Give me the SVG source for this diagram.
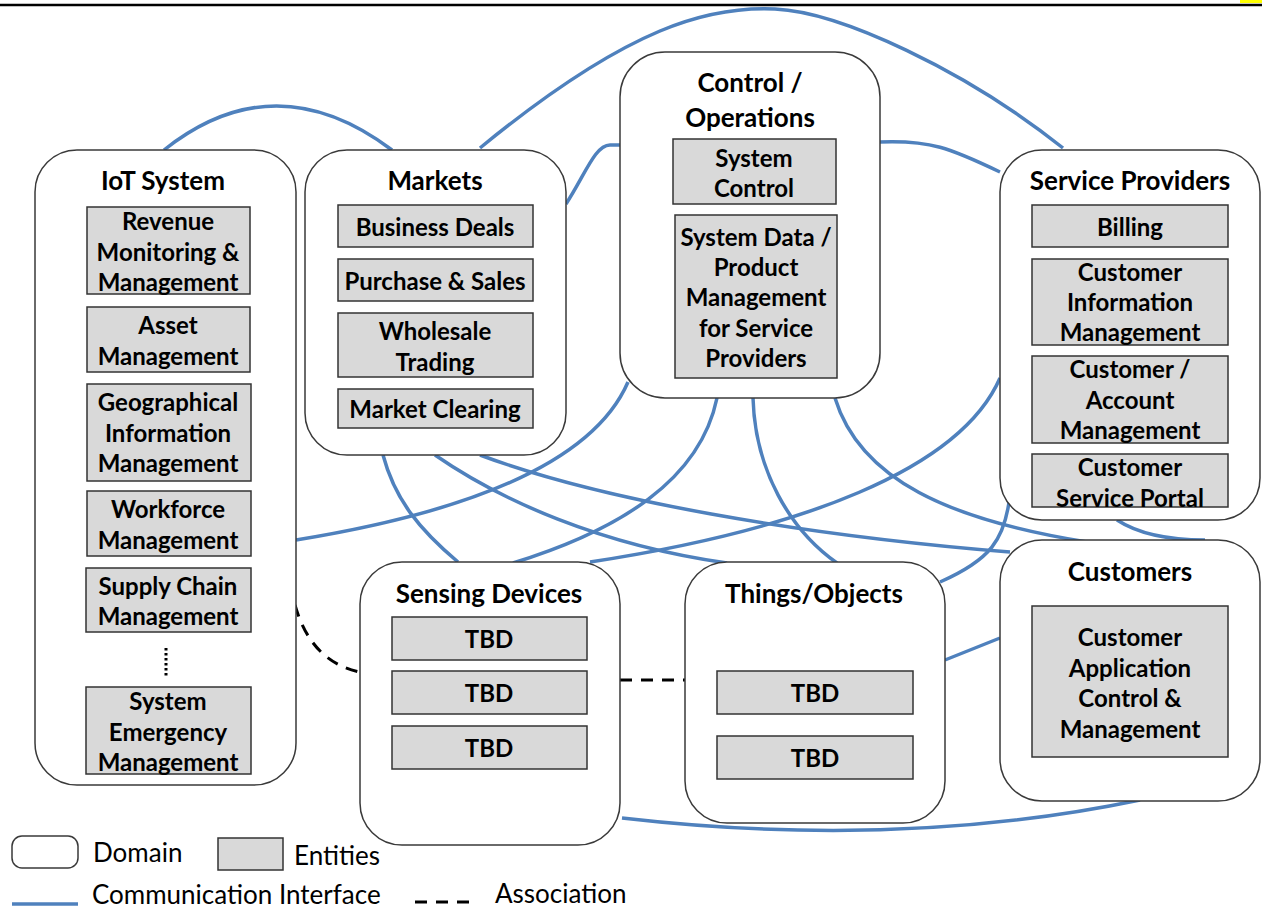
<svg xmlns="http://www.w3.org/2000/svg" width="1262" height="908" viewBox="0 0 1262 908">
<style>
.dom{fill:#fff;stroke:#3a3a3a;stroke-width:1.5}
.ent{fill:#d9d9d9;stroke:#333;stroke-width:1.5}
.t{font-family:Lato,"Liberation Sans",sans-serif;font-weight:bold;font-size:24px;text-anchor:middle;dominant-baseline:central;fill:#000}
.ti{font-size:26px}
.lg{font-family:Lato,"Liberation Sans",sans-serif;font-size:26px;dominant-baseline:central;fill:#000}
.link{fill:none;stroke:#4f81bd;stroke-width:3.5}
.assoc{fill:none;stroke:#000;stroke-width:3;stroke-dasharray:12 9}
</style>
<rect x="0" y="0" width="1262" height="908" fill="#fff"/>
<line x1="0" y1="5" x2="1262" y2="5" stroke="#000" stroke-width="2.5"/>
<rect x="1240" y="0" width="22" height="3" fill="#ffff00"/>
<g id="connectors">
<path class="link" d="M164,150 Q275,62 392,150"/>
<path class="link" d="M480,148 C630,25 710,6 775,9 S965,70 1063,148"/>
<path class="link" d="M566,204 C585,175 595,145 610,145 L620,145"/>
<path class="link" d="M880,142 C930,140 950,148 1000,172"/>
<path class="link" d="M296,540 C450,515 590,470 628,382"/>
<path class="link" d="M383,455 C395,500 420,530 458,562"/>
<path class="link" d="M435,455 C500,500 600,545 727,563"/>
<path class="link" d="M480,455 C600,500 800,535 1010,552"/>
<path class="link" d="M717,398 C700,480 620,530 513,563"/>
<path class="link" d="M753,398 C755,470 790,530 837,563"/>
<path class="link" d="M835,398 C860,480 950,520 1087,542"/>
<path class="link" d="M1000,378 C960,470 800,530 590,562"/>
<path class="link" d="M1010,495 C1005,540 990,560 940,582"/>
<path class="link" d="M1117,520 C1140,535 1170,540 1205,540"/>
<path class="link" d="M945,660 L1000,638"/>
<path class="link" d="M622,818 Q900,850 1140,800"/>
<path class="assoc" d="M295,605 C305,640 325,665 360,672"/>
<path class="assoc" d="M620,680 L685,680"/>
</g>
<g id="iot">
<rect class="dom" x="35" y="150" width="261" height="635" rx="42"/>
<text class="t ti" x="163" y="180">IoT System</text>
<rect class="ent" x="87" y="207" width="163" height="87"/>
<text class="t" x="168" y="220">Revenue</text><text class="t" x="168" y="251">Monitoring &amp;</text><text class="t" x="168" y="281">Management</text>
<rect class="ent" x="87" y="307" width="163" height="65"/>
<text class="t" x="168" y="324">Asset</text><text class="t" x="168" y="355">Management</text>
<rect class="ent" x="87" y="384" width="164" height="97"/>
<text class="t" x="168" y="401">Geographical</text><text class="t" x="168" y="432">Information</text><text class="t" x="168" y="462">Management</text>
<rect class="ent" x="87" y="491" width="164" height="65"/>
<text class="t" x="168" y="508">Workforce</text><text class="t" x="168" y="539">Management</text>
<rect class="ent" x="86" y="568" width="165" height="64"/>
<text class="t" x="168" y="585">Supply Chain</text><text class="t" x="168" y="615">Management</text>
<line x1="166" y1="648" x2="166" y2="678" stroke="#000" stroke-width="3" stroke-dasharray="2.5 2.5"/>
<rect class="ent" x="86" y="687" width="165" height="87"/>
<text class="t" x="168" y="700">System</text><text class="t" x="168" y="731">Emergency</text><text class="t" x="168" y="761">Management</text>
</g>
<g id="markets">
<rect class="dom" x="305" y="150" width="261" height="305" rx="42"/>
<text class="t ti" x="435" y="180">Markets</text>
<rect class="ent" x="338" y="205" width="195" height="42"/>
<text class="t" x="435" y="226">Business Deals</text>
<rect class="ent" x="338" y="259" width="195" height="42"/>
<text class="t" x="435" y="280">Purchase &amp; Sales</text>
<rect class="ent" x="338" y="313" width="195" height="64"/>
<text class="t" x="435" y="330">Wholesale</text><text class="t" x="435" y="361">Trading</text>
<rect class="ent" x="338" y="389" width="195" height="39"/>
<text class="t" x="435" y="408">Market Clearing</text>
</g>
<g id="control">
<rect class="dom" x="620" y="52" width="260" height="346" rx="45"/>
<text class="t ti" x="750" y="82">Control /</text>
<text class="t ti" x="750" y="117">Operations</text>
<rect class="ent" x="673" y="139" width="163" height="65"/>
<text class="t" x="754" y="157">System</text><text class="t" x="754" y="187">Control</text>
<rect class="ent" x="675" y="215" width="162" height="163"/>
<text class="t" x="756" y="236">System Data /</text><text class="t" x="756" y="266">Product</text><text class="t" x="756" y="296">Management</text><text class="t" x="756" y="327">for Service</text><text class="t" x="756" y="357">Providers</text>
</g>
<g id="service-providers">
<rect class="dom" x="1000" y="150" width="260" height="370" rx="42"/>
<text class="t ti" x="1130" y="180">Service Providers</text>
<rect class="ent" x="1032" y="205" width="196" height="42"/>
<text class="t" x="1130" y="226">Billing</text>
<rect class="ent" x="1032" y="259" width="196" height="86"/>
<text class="t" x="1130" y="271">Customer</text><text class="t" x="1130" y="301">Information</text><text class="t" x="1130" y="331">Management</text>
<rect class="ent" x="1032" y="356" width="196" height="87"/>
<text class="t" x="1130" y="368">Customer /</text><text class="t" x="1130" y="399">Account</text><text class="t" x="1130" y="429">Management</text>
<rect class="ent" x="1032" y="454" width="196" height="53"/>
<text class="t" x="1130" y="466">Customer</text><text class="t" x="1130" y="497">Service Portal</text>
</g>
<g id="sensing">
<rect class="dom" x="360" y="562" width="260" height="283" rx="42"/>
<text class="t ti" x="489" y="593">Sensing Devices</text>
<rect class="ent" x="392" y="617" width="195" height="43"/>
<text class="t" x="489" y="638">TBD</text>
<rect class="ent" x="392" y="671" width="195" height="43"/>
<text class="t" x="489" y="692">TBD</text>
<rect class="ent" x="392" y="726" width="195" height="43"/>
<text class="t" x="489" y="747">TBD</text>
</g>
<g id="things">
<rect class="dom" x="685" y="562" width="260" height="261" rx="42"/>
<text class="t ti" x="814" y="593">Things/Objects</text>
<rect class="ent" x="717" y="671" width="196" height="43"/>
<text class="t" x="815" y="692">TBD</text>
<rect class="ent" x="717" y="736" width="196" height="43"/>
<text class="t" x="815" y="757">TBD</text>
</g>
<g id="customers">
<rect class="dom" x="1000" y="540" width="260" height="261" rx="42"/>
<text class="t ti" x="1130" y="571">Customers</text>
<rect class="ent" x="1032" y="606" width="196" height="151"/>
<text class="t" x="1130" y="636">Customer</text><text class="t" x="1130" y="667">Application</text><text class="t" x="1130" y="697">Control &amp;</text><text class="t" x="1130" y="728">Management</text>
</g>
<g id="legend">
<rect class="dom" x="12" y="836" width="66" height="32" rx="10"/>
<text class="lg" x="93" y="852">Domain</text>
<rect class="ent" x="218" y="838" width="65" height="32"/>
<text class="lg" x="294" y="855">Entities</text>
<line class="link" x1="12" y1="904" x2="78" y2="904"/>
<text class="lg" x="92" y="894">Communication Interface</text>
<line class="assoc" x1="415" y1="902" x2="476" y2="902" stroke-width="3.5" stroke-dasharray="11 6"/>
<text class="lg" x="495" y="893">Association</text>
</g>
</svg>
